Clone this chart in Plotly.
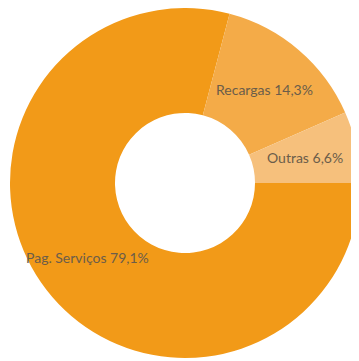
import math
import plotly.graph_objects as go

# slice data (Portuguese labels, shares in %)
labels = ["Pag. Serviços", "Recargas", "Outras"]
values = [79.1, 14.3, 6.6]
colors = ["#F29A18", "#F4AB48", "#F6C07C"]

W, H = 372, 361
HOLE = 0.40
dom_x = [2 / W, 352 / W]
dom_y = [11 / H, 1]

fig = go.Figure(data=go.Pie(
    labels=labels,
    values=values,
    hole=HOLE,
    sort=False,
    direction="clockwise",
    rotation=90,
    marker=dict(colors=colors, line=dict(width=0)),
    textinfo="none",
    hoverinfo="label+percent",
    domain=dict(x=dom_x, y=dom_y),
))

# labels sit horizontally in the middle of the ring, at each slice's mid angle
cx = (dom_x[0] + dom_x[1]) / 2
cy = (dom_y[0] + dom_y[1]) / 2
R = min((dom_x[1] - dom_x[0]) * W, (dom_y[1] - dom_y[0]) * H) / 2
r_mid = R * (1 + HOLE) / 2
total = sum(values)
start = 0.0
for lab, v in zip(labels, values):
    mid = start - v / total * 360 / 2  # clockwise from 3 o'clock
    start -= v / total * 360
    a = math.radians(mid)
    pct = f"{v / total * 100:.1f}".replace(".", ",")
    fig.add_annotation(
        x=cx + r_mid * math.cos(a) / W,
        y=cy + r_mid * math.sin(a) / H,
        xref="paper", yref="paper",
        text=f"{lab} {pct}%",
        showarrow=False,
        xanchor="center", yanchor="middle",
        font=dict(family="Lato, Open Sans, sans-serif", size=14, color="#6b5d4a"),
    )

fig.update_layout(
    width=W,
    height=H,
    margin=dict(l=0, r=0, t=0, b=0),
    showlegend=False,
    paper_bgcolor="white",
    plot_bgcolor="white",
)

fig.write_html("out.html")
